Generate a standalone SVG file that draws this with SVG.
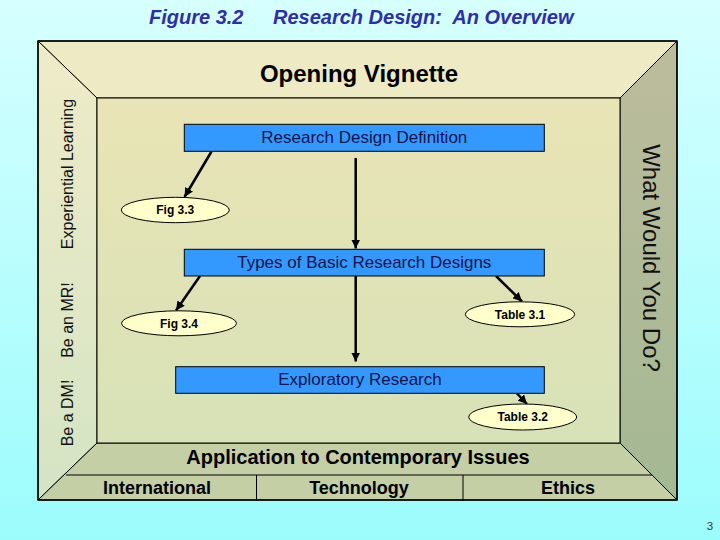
<svg xmlns="http://www.w3.org/2000/svg" width="720" height="540" viewBox="0 0 720 540">
  <defs>
    <linearGradient id="bg" x1="0" y1="0" x2="0" y2="1">
      <stop offset="0" stop-color="#d6ffff"/>
      <stop offset="1" stop-color="#9cfcfc"/>
    </linearGradient>
    <linearGradient id="leftG" x1="0" y1="0" x2="0" y2="1">
      <stop offset="0" stop-color="#efebc8"/>
      <stop offset="1" stop-color="#d4e4c4"/>
    </linearGradient>
    <linearGradient id="rightG" x1="0" y1="0" x2="0" y2="1">
      <stop offset="0" stop-color="#bcbc9c"/>
      <stop offset="1" stop-color="#a4b894"/>
    </linearGradient>
    <linearGradient id="innerG" x1="0" y1="0" x2="0" y2="1">
      <stop offset="0" stop-color="#e9e4b5"/>
      <stop offset="1" stop-color="#d7e2b7"/>
    </linearGradient>
    <marker id="arr" markerUnits="userSpaceOnUse" markerWidth="10" markerHeight="9" refX="9" refY="4.5" orient="auto">
      <path d="M0,0 L9,4.5 L0,9 z" fill="#000"/>
    </marker>
    <style>
      .frame { stroke: #000; stroke-width: 1; }
      .box { fill: #3399ff; stroke: #000; stroke-width: 1; }
      .boxtxt { font-family: "Liberation Sans", Arial, sans-serif; font-size: 17px; fill: #14144a; text-anchor: middle; }
      .ell { fill: #ffffcc; stroke: #000; stroke-width: 1; }
      .elltxt { font-family: "Liberation Sans", Arial, sans-serif; font-size: 12px; font-weight: bold; fill: #000; text-anchor: middle; }
      .side { font-family: "Liberation Sans", Arial, sans-serif; font-size: 16px; fill: #111; text-anchor: middle; }
      .bot { font-family: "Liberation Sans", Arial, sans-serif; font-weight: bold; fill: #000; text-anchor: middle; }
      .title { font-family: "Liberation Sans", Arial, sans-serif; font-size: 20px; font-weight: bold; font-style: italic; fill: #2e2eaa; }
      .conn { stroke: #000; stroke-width: 2.5; fill: none; marker-end: url(#arr); }
    </style>
  </defs>

  <rect x="0" y="0" width="720" height="540" fill="url(#bg)"/>

  <g id="title">
    <text class="title" x="149" y="24">Figure 3.2</text>
    <text class="title" x="273" y="24" xml:space="preserve">Research Design:  An Overview</text>
  </g>

  <g id="frame">
    <polygon class="frame" points="38,41 677,41 620,98 97,98" fill="#eeeac4"/>
    <polygon class="frame" points="38,41 97,98 97,443 38,500" fill="url(#leftG)"/>
    <polygon class="frame" points="677,41 677,500 620,443 620,98" fill="url(#rightG)"/>
    <polygon class="frame" points="38,500 97,443 620,443 677,500" fill="#c4cfa5"/>
    <rect class="frame" x="97" y="98" width="523" height="345" fill="url(#innerG)"/>
    <rect x="38" y="41" width="639" height="459" fill="none" stroke="#000" stroke-width="1.5"/>
    <line x1="66" y1="475" x2="652" y2="475" stroke="#000" stroke-width="1"/>
    <line x1="256.5" y1="475" x2="256.5" y2="501" stroke="#000" stroke-width="1"/>
    <line x1="463" y1="475" x2="463" y2="501" stroke="#000" stroke-width="1"/>
  </g>

  <g id="frame-labels">
    <text x="359" y="82" font-family="Liberation Sans, Arial, sans-serif" font-size="24" font-weight="bold" fill="#000" text-anchor="middle">Opening Vignette</text>
    <text class="side" transform="translate(73,174) rotate(-90)">Experiential Learning</text>
    <text class="side" transform="translate(73,320) rotate(-90)">Be an MR!</text>
    <text class="side" transform="translate(73,413) rotate(-90)">Be a DM!</text>
    <text transform="translate(643,258) rotate(90)" font-family="Liberation Sans, Arial, sans-serif" font-size="24" fill="#111" text-anchor="middle">What Would You Do?</text>
    <text class="bot" x="358" y="464" font-size="20">Application to Contemporary Issues</text>
    <text class="bot" x="157" y="494" font-size="18">International</text>
    <text class="bot" x="359" y="494" font-size="18">Technology</text>
    <text class="bot" x="568" y="494" font-size="18">Ethics</text>
  </g>

  <g id="connectors">
    <line class="conn" x1="211.5" y1="151.5" x2="184.5" y2="197"/>
    <line class="conn" x1="355.7" y1="158" x2="355.7" y2="248.5"/>
    <line class="conn" x1="200" y1="276" x2="176" y2="310.5"/>
    <line class="conn" x1="355.7" y1="276" x2="355.7" y2="361.5"/>
    <line class="conn" x1="496" y1="276" x2="522" y2="301.5"/>
    <line class="conn" x1="517" y1="393.5" x2="527" y2="404"/>
  </g>

  <g id="node-rdd">
    <rect class="box" x="184.3" y="124.3" width="360" height="27"/>
    <text class="boxtxt" x="364.3" y="143">Research Design Definition</text>
  </g>
  <g id="node-types">
    <rect class="box" x="184.3" y="249.3" width="360" height="26.7"/>
    <text class="boxtxt" x="364.3" y="267.5">Types of Basic Research Designs</text>
  </g>
  <g id="node-exploratory">
    <rect class="box" x="175.7" y="366.7" width="368.6" height="26.6"/>
    <text class="boxtxt" x="360" y="384.5">Exploratory Research</text>
  </g>
  <g id="node-fig33">
    <ellipse class="ell" cx="175.3" cy="210" rx="54" ry="12.7"/>
    <text class="elltxt" x="175.3" y="214.3">Fig 3.3</text>
  </g>
  <g id="node-fig34">
    <ellipse class="ell" cx="179" cy="323.3" rx="57.5" ry="12.5"/>
    <text class="elltxt" x="179" y="327.6">Fig 3.4</text>
  </g>
  <g id="node-table31">
    <ellipse class="ell" cx="520" cy="314.3" rx="54.7" ry="12.5"/>
    <text class="elltxt" x="520" y="318.6">Table 3.1</text>
  </g>
  <g id="node-table32">
    <ellipse class="ell" cx="522.7" cy="417" rx="54" ry="13"/>
    <text class="elltxt" x="522.7" y="421.3">Table 3.2</text>
  </g>

  <text x="710" y="530" font-family="Liberation Sans, Arial, sans-serif" font-size="11.5" fill="#333" text-anchor="middle">3</text>
</svg>
